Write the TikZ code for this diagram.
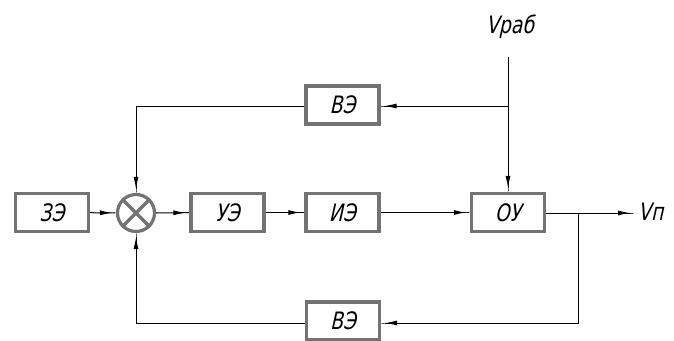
\documentclass[tikz,border=0pt]{standalone}
\usepackage{fontspec}
\setmainfont{DejaVu Sans}[FakeSlant=0.22,FakeStretch=0.78]
\usetikzlibrary{arrows.meta}
\begin{document}
\begin{tikzpicture}[x=1pt,y=-1pt,
  blk/.style={draw=gray!110, line width=3.2pt, minimum width=73pt, minimum height=38pt, inner sep=0pt, font=\fontsize{24}{24}\selectfont},
  lbl/.style={font=\fontsize{24}{24}\selectfont, inner sep=0pt},
  con/.style={line width=1pt, draw=black},
  arr/.style={con, -{Latex[length=12pt,width=5pt]Rectangle[length=4pt,width=1pt]}}
]
\useasboundingbox (0,0) rectangle (674,340);
\node[blk] (ze) at (52,212.5) {ЗЭ};
\node[draw=gray!110, line width=3.2pt, circle, minimum size=37pt, inner sep=0pt] (sum) at (136,213) {};
\draw[gray!110, line width=3.2pt] (sum.north west) -- (sum.south east) (sum.north east) -- (sum.south west);
\node[blk] (ue) at (227.5,212.5) {УЭ};
\node[blk] (ie) at (342.5,212.5) {ИЭ};
\node[blk] (ou) at (508,212.5) {ОУ};
\node[blk] (ve1) at (342.5,105) {ВЭ};
\node[blk] (ve2) at (343,321) {ВЭ};
\node[lbl] (vrab) at (510,27) {Vраб};
\node[lbl, anchor=west] (vp) at (638,212) {Vп};
\coordinate (top) at (508,57);
\coordinate (tj) at (508,106);
\coordinate (oj) at (578,213);
\coordinate (ob) at (578,323);
\coordinate (out) at (634,213);
\coordinate (tl) at (136,106);
\coordinate (bl) at (136,323);

\draw[arr] (ze) -- (sum);
\draw[arr] (sum) -- (ue);
\draw[arr] (ue) -- (ie);
\draw[arr] (ie) -- (ou);
\draw[arr] (ou.east |- oj) -- (out);
\draw[arr] (top) -- (ou);
\draw[arr] (tj) -- (ve1.east |- tj);
\draw[arr] (ve1.west |- tj) -- (tl) -- (sum);
\draw[arr] (oj) -- (ob) -- (ve2.east |- ob);
\draw[arr] (ve2.west |- ob) -- (bl) -- (sum);
\end{tikzpicture}
\end{document}
